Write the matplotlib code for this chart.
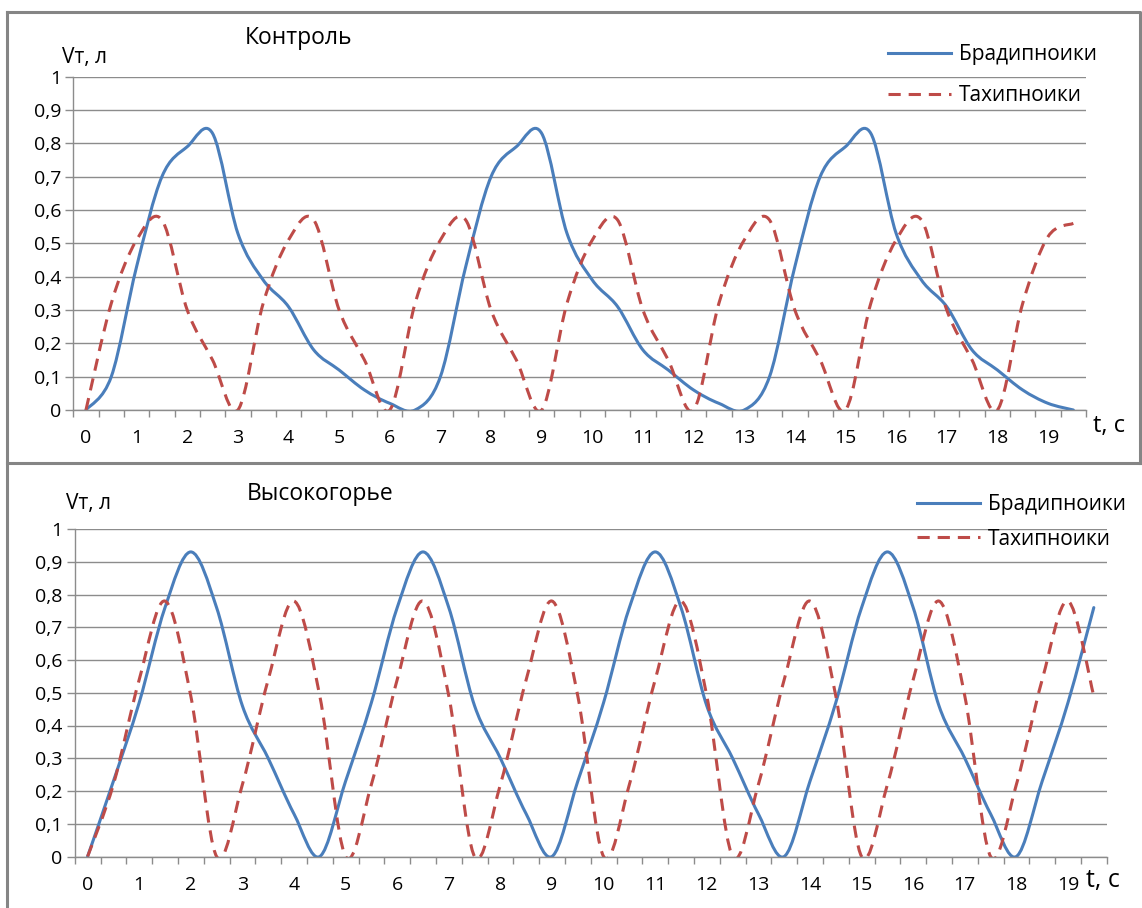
import numpy as np
import matplotlib
matplotlib.use('Agg')
import matplotlib.pyplot as plt
from matplotlib.path import Path
from matplotlib.patches import PathPatch
from matplotlib.lines import Line2D

plt.rcParams['font.family'] = ['Open Sans', 'DejaVu Sans']

# data: one point every 0.5 s, 40 points (t = 0 ... 19.5 s)
t_labels = [str(k) for k in range(20)]

# Контроль
brady_ctrl = [0, 0.10, 0.43, 0.70, 0.79, 0.83, 0.53, 0.39, 0.31, 0.18, 0.12, 0.06, 0.02,
              0, 0.10, 0.43, 0.70, 0.79, 0.83, 0.53, 0.39, 0.31, 0.18, 0.12, 0.06, 0.02,
              0, 0.10, 0.43, 0.70, 0.79, 0.83, 0.53, 0.39, 0.31, 0.18, 0.12, 0.06, 0.02,
              0]
tachy_ctrl = [0, 0.32, 0.51, 0.57, 0.30, 0.15,
              0, 0.32, 0.51, 0.57, 0.30, 0.15,
              0, 0.32, 0.51, 0.57, 0.30, 0.15,
              0, 0.32, 0.51, 0.57, 0.30, 0.15,
              0, 0.32, 0.51, 0.57, 0.30, 0.15,
              0, 0.32, 0.51, 0.57, 0.30, 0.15,
              0, 0.32, 0.52, 0.56]

# Высокогорье
brady_high = [0, 0.23, 0.47, 0.76, 0.93, 0.76, 0.46, 0.30, 0.13,
              0, 0.23, 0.47, 0.76, 0.93, 0.76, 0.46, 0.30, 0.13,
              0, 0.23, 0.47, 0.76, 0.93, 0.76, 0.46, 0.30, 0.13,
              0, 0.23, 0.47, 0.76, 0.93, 0.76, 0.46, 0.30, 0.13,
              0, 0.23, 0.47, 0.76]
tachy_high = [0, 0.22, 0.54, 0.78, 0.49,
              0, 0.22, 0.54, 0.78, 0.49,
              0, 0.22, 0.54, 0.78, 0.49,
              0, 0.22, 0.54, 0.78, 0.49,
              0, 0.22, 0.54, 0.78, 0.49,
              0, 0.22, 0.54, 0.78, 0.49,
              0, 0.22, 0.54, 0.78, 0.49,
              0, 0.22, 0.54, 0.78, 0.49]

y_ticks = [i / 10 for i in range(11)]
y_tick_labels = ['0', '0,1', '0,2', '0,3', '0,4', '0,5', '0,6', '0,7', '0,8', '0,9', '1']
series_names = ['Брадипноики', 'Тахипноики']

BLUE = '#4A7EBB'
RED = '#BE4B48'
GRID = '#8c8c8c'
FRAME = '#858585'
DASH = (0, (4, 2.6))

W, H = 1142, 908


def fx(px):
    return px / W


def fy(py):
    return 1 - py / H


def smooth_path(y):
    # excel-like smoothed line: bezier through every point
    pts = np.column_stack([np.arange(len(y)), y]).astype(float)
    prev = np.vstack([pts[:1], pts[:-1]])
    nxt = np.vstack([pts[1:], pts[-1:]])
    tang = (nxt - prev) / 6
    verts = [pts[0]]
    codes = [Path.MOVETO]
    for i in range(len(pts) - 1):
        verts += [pts[i] + tang[i], pts[i + 1] - tang[i + 1], pts[i + 1]]
        codes += [Path.CURVE4] * 3
    return Path(verts, codes)


fig = plt.figure(figsize=(W / 100, H / 100), dpi=100)


def panel(left, right, top, bottom, brady, tachy):
    ax = fig.add_axes([fx(left), fy(bottom), fx(right) - fx(left), fy(top) - fy(bottom)])
    n = len(brady)
    ax.set_xlim(-0.5, n - 0.5)
    ax.set_ylim(0, 1)
    ax.set_yticks(y_ticks)
    ax.set_yticklabels(y_tick_labels)
    ax.set_xticks(range(0, n, 2))
    ax.set_xticklabels(t_labels[:len(range(0, n, 2))])
    ax.set_xticks(np.arange(-0.5, n, 1), minor=True)
    ax.tick_params(axis='x', which='major', length=0, pad=14, labelsize=14)
    ax.tick_params(axis='x', which='minor', length=5, width=1, color=GRID)
    ax.tick_params(axis='y', length=5.8, width=1, color=GRID, pad=3, labelsize=14)
    ax.grid(axis='y', color=GRID, lw=1)
    ax.set_axisbelow(True)
    for s in ['top', 'right']:
        ax.spines[s].set_visible(False)
    for s in ['left', 'bottom']:
        ax.spines[s].set_color(GRID)
        ax.spines[s].set_linewidth(1)
    ax.add_patch(PathPatch(smooth_path(brady), fill=False, ec=BLUE, lw=2.2,
                           capstyle='round', joinstyle='round'))
    ax.add_patch(PathPatch(smooth_path(tachy), fill=False, ec=RED, lw=2.2,
                           linestyle=DASH, capstyle='butt', joinstyle='round'))
    return ax


handles = [Line2D([], [], color=BLUE, lw=2.2),
           Line2D([], [], color=RED, lw=2.2, linestyle=DASH)]

ax1 = panel(73.3, 1086, 76.7, 410, brady_ctrl, tachy_ctrl)
ax1.legend(handles, series_names, loc='center left', bbox_to_anchor=(fx(888), fy(75)),
           bbox_transform=fig.transFigure, frameon=False, fontsize=15,
           handlelength=3.0, handletextpad=0.4, labelspacing=0.95,
           borderpad=0, borderaxespad=0)

ax2 = panel(74.7, 1106.7, 529, 856.5, brady_high, tachy_high)
ax2.legend(handles, series_names, loc='center left', bbox_to_anchor=(fx(917), fy(522)),
           bbox_transform=fig.transFigure, frameon=False, fontsize=15,
           handlelength=3.0, handletextpad=0.4, labelspacing=0.65,
           borderpad=0, borderaxespad=0)

# titles and axis names
fig.text(fx(245), fy(43.5), 'Контроль', fontsize=16.5, va='baseline')
fig.text(fx(62), fy(62.7), 'Vт, л', fontsize=15, va='baseline')
fig.text(fx(1093), fy(431.7), 't, c', fontsize=17, va='baseline')
fig.text(fx(247), fy(500), 'Высокогорье', fontsize=16.5, va='baseline')
fig.text(fx(66), fy(509), 'Vт, л', fontsize=15, va='baseline')
fig.text(fx(1086), fy(886.7), 't, c', fontsize=18, va='baseline')

# chart frames
for xs, ys in [([7, 1140, 1140], [12, 12, 463]),
               ([7, 7], [12, 908]),
               ([7, 1142], [463, 463])]:
    fig.add_artist(Line2D([fx(v) for v in xs], [fy(v) for v in ys],
                          color=FRAME, lw=2.2, transform=fig.transFigure))

fig.savefig('out.png', dpi=100)
